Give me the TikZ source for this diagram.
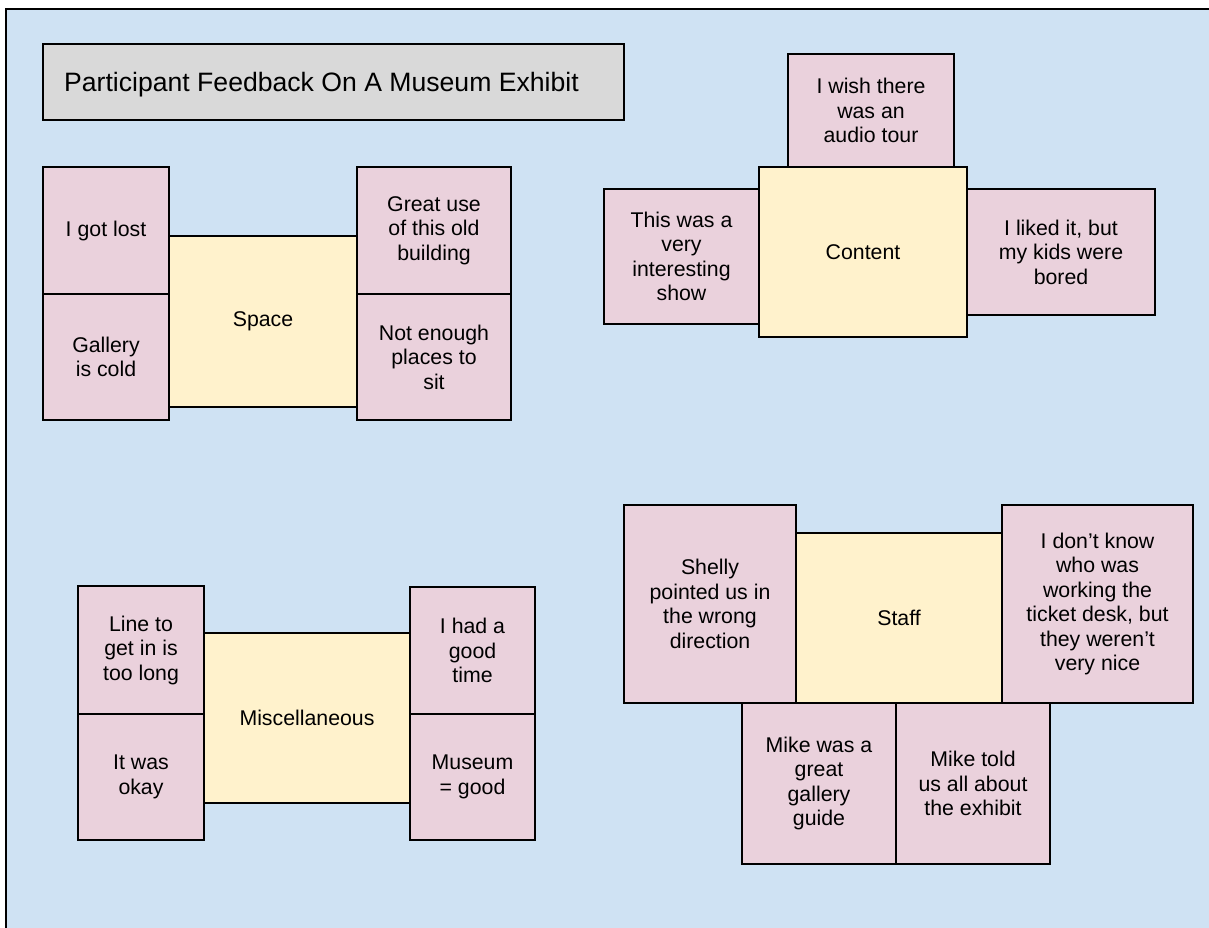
\documentclass[tikz,border=0pt]{standalone}
\usepackage{fontspec}
\setmainfont{Liberation Sans}

\definecolor{boardblue}{HTML}{CFE2F3}
\definecolor{notepink}{HTML}{EAD1DC}
\definecolor{themeyellow}{HTML}{FFF2CC}
\definecolor{titlegray}{HTML}{D9D9D9}

\tikzset{
  card/.style={draw=black, line width=2pt, inner sep=0pt, align=center,
    anchor=north west, font=\fontsize{21.3}{24.5}\selectfont},
  note/.style={card, fill=notepink},
  theme/.style={card, fill=themeyellow},
  size/.style 2 args={minimum width=#1pt, minimum height=#2pt},
  titlebox/.style={draw=black, line width=2pt, fill=titlegray, inner sep=0pt,
    anchor=north west},
}

\begin{document}
\begin{tikzpicture}[x=1pt, y=-1pt]
  \useasboundingbox (0,0) rectangle (1209,927);
  \clip (0,0) rectangle (1209,927);
  \fill[white] (0,0) rectangle (1209,927);
  % board
  \draw[line width=2pt, fill=boardblue] (6,9) rectangle (1240,960);

  % title
  \node[titlebox, size={581}{76}] (title) at (42,43) {};
  \node[anchor=west, inner sep=0pt, font=\fontsize{26.6}{30}\selectfont]
    (titletext) at ([xshift=22pt, yshift=-2.5pt]title.west) {Participant Feedback On A Museum Exhibit};

  % Space
  \node[note, size={126}{127}] (lost) at (42,166) {I got lost};
  \node[note, size={126}{126}] (cold) at (42,293) {Gallery\\is cold};
  \node[note, size={154}{127}] (building) at (356,166) {Great use\\of this old\\building};
  \node[note, size={154}{126}] (sit) at (356,293) {Not enough\\places to\\sit};
  \node[theme, size={188}{171}] (space) at (168,235) {Space};

  % Content
  \node[note, size={166}{113}] (audio) at (787,53) {I wish there\\was an\\audio tour};
  \node[note, size={155}{135}] (show) at (603,188) {This was a\\very\\interesting\\show};
  \node[note, size={188}{126}] (kids) at (966,188) {I liked it, but\\my kids were\\bored};
  \node[theme, size={208}{170}] (content) at (758,166) {Content};

  % Staff
  \node[note, size={172}{198}] (shelly) at (623,504) {Shelly\\pointed us in\\the wrong\\direction};
  \node[note, size={191}{198}] (desk) at (1001,504) {I don’t know\\who was\\working the\\ticket desk, but\\they weren’t\\very nice};
  \node[note, size={154}{161}] (guide) at (741,702) {Mike was a\\great\\gallery\\guide};
  \node[note, size={154}{161}] (told) at (895,702) {Mike told\\us all about\\the exhibit};
  \node[theme, size={206}{170}] (staff) at (795,532) {Staff};

  % Miscellaneous
  \node[note, size={126}{128}] (line) at (77,585) {Line to\\get in is\\too long};
  \node[note, size={126}{126}] (okay) at (77,713) {It was\\okay};
  \node[note, size={125}{127}] (goodtime) at (409,586) {I had a\\good\\time};
  \node[note, size={125}{126}] (museum) at (409,713) {Museum\\= good};
  \node[theme, size={206}{170}] (misc) at (203,632) {Miscellaneous};
\end{tikzpicture}
\end{document}
